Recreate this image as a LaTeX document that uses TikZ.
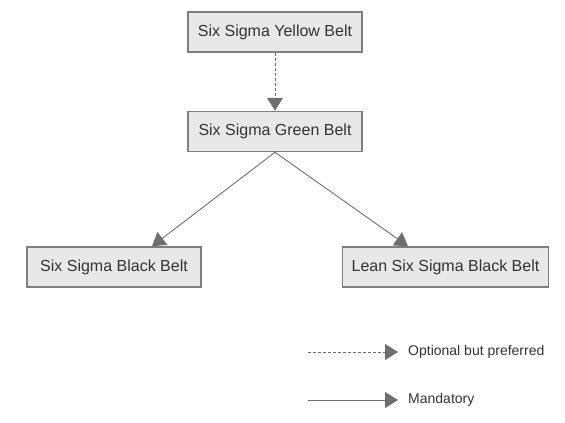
\documentclass[tikz,border=0pt]{standalone}
\usepackage{fontspec}
\setmainfont{Liberation Sans}
\usetikzlibrary{arrows.meta, positioning}
\definecolor{beltfill}{HTML}{E8E8E8}
\definecolor{beltdraw}{HTML}{7F7F7F}
\definecolor{linkgray}{HTML}{6E6E6E}
\definecolor{labelgray}{HTML}{333333}
\tikzset{
    belt/.style = {
      rectangle, draw=beltdraw, fill=beltfill, line width=1.5pt,
      minimum width=174pt, minimum height=40pt, inner xsep=9pt,
      text=labelgray, font=\fontsize{16}{19}\selectfont,
    },
    link/.style = {
      draw=linkgray, line width=0.9pt,
      arrows={-Triangle[length=13pt, width=16pt, fill=linkgray]},
    },
    optional link/.style = {
      link, dash pattern=on 3pt off 2pt,
    },
    key/.style = {
      anchor=west, inner sep=0pt, text=labelgray,
      font=\fontsize{14}{17}\selectfont,
    },
}

\begin{document}
\begin{tikzpicture}[x=1pt, y=-1pt]
    \useasboundingbox (0,0) rectangle (565,423);

    %% The belts, from first to last
    \node [belt] (yellow) at (275,32) {Six Sigma Yellow Belt};
    \node [belt, below=58pt of yellow] (green) {Six Sigma Green Belt};
    \node [belt] (black) at (114,267) {Six Sigma Black Belt};
    \node [belt] (lean) at (445.5,267) {Lean Six Sigma Black Belt};

    %% Paths between the belts
    \draw [optional link] (yellow) -- (green);
    \draw [link] (green.south) -- ([xshift=38pt] black.north);
    \draw [link] (green.south) -- ([xshift=-37.5pt] lean.north);

    %% Legend
    \node [key] (optional) at (408,352) {Optional but preferred};
    \node [key] (mandatory) at (408,400) {Mandatory};
    \draw [optional link] ([xshift=-100pt] optional.west) -- ([xshift=-10pt] optional.west);
    \draw [link] ([xshift=-100pt] mandatory.west) -- ([xshift=-10pt] mandatory.west);
\end{tikzpicture}
\end{document}
